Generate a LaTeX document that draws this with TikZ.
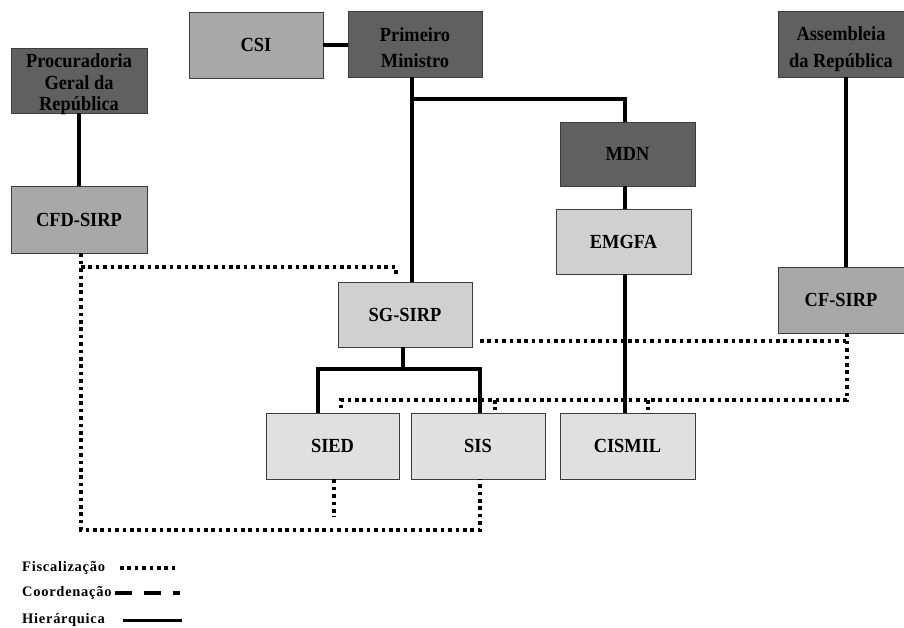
\documentclass[tikz,border=0pt]{standalone}
\usepackage{fontspec}
\setmainfont{Liberation Serif}
\definecolor{dkgray}{RGB}{96,96,96}
\definecolor{mdgray}{RGB}{168,168,168}
\definecolor{ltgray}{RGB}{208,208,208}
\definecolor{plgray}{RGB}{224,224,224}
\definecolor{bordergray}{RGB}{60,60,60}
\begin{document}
\begin{tikzpicture}[x=1pt,y=-1pt,
  box/.style={draw=bordergray, line width=0.8pt, minimum width=134pt, minimum height=66pt,
    inner sep=0pt, align=center, text=black, font=\fontsize{20}{26}\selectfont\bfseries\addfontfeatures{FakeStretch=0.92}},
  darkbox/.style={box, fill=dkgray},
  medbox/.style={box, fill=mdgray},
  lightbox/.style={box, fill=ltgray},
  palebox/.style={box, fill=plgray},
  hier/.style={line width=3.5pt, line join=miter},
  fisc/.style={line width=3.6pt, dash pattern=on 3.6pt off 3.8pt},
  coord/.style={line width=3.6pt, dash pattern=on 17pt off 12pt},
  legend/.style={anchor=west, inner sep=0pt, font=\fontsize{14.5}{16}\selectfont\bfseries\addfontfeatures{LetterSpace=5}}
]
\useasboundingbox (0,0) rectangle (904,627);

% boxes
\node[darkbox, minimum width=136pt, minimum height=65pt, inner ysep=-5pt, font=\fontsize{20}{21.5}\selectfont\bfseries\addfontfeatures{FakeStretch=0.92}] (pgr) at (79,80.5) {\rule{0pt}{22pt}Procuradoria\\Geral da\\República};
\node[medbox] (csi) at (256,45) {CSI};
\node[darkbox] (pm) at (415,44) {\rule{0pt}{22pt}Primeiro\\Ministro};
\node[darkbox, minimum width=126pt, font=\fontsize{20}{27}\selectfont\bfseries\addfontfeatures{FakeStretch=0.92}] (ar) at (841,44) {\rule{0pt}{25pt}Assembleia\\da República};
\node[darkbox, minimum width=135pt, minimum height=64pt] (mdn) at (627.5,154) {MDN};
\node[lightbox, minimum width=135pt, minimum height=65pt] (emgfa) at (623.5,241.5) {EMGFA};
\node[medbox, minimum width=136pt, minimum height=67pt] (cfd) at (79,219.5) {CFD-SIRP};
\node[lightbox, minimum height=65pt] (sg) at (405,314.5) {SG-SIRP};
\node[medbox, minimum width=126pt] (cf) at (841,300) {CF-SIRP};
\node[palebox, minimum width=133pt] (sied) at (332.5,446) {SIED};
\node[palebox] (sis) at (478,446) {SIS};
\node[palebox, minimum width=135pt] (cismil) at (627.5,446) {CISMIL};

% helper coordinates
\coordinate (pmx) at (412,0);
\coordinate (j1) at (412,99);
\coordinate (mx) at (625,0);
\coordinate (arx) at (846,0);
\coordinate (sgj) at (403,369);
\coordinate (x318) at (318,0);
\coordinate (x480) at (480,0);
\coordinate (x81) at (81,0);
\coordinate (y530) at (0,530);
\coordinate (f1) at (81,267);
\coordinate (f2) at (396,277);
\coordinate (x334) at (334,0);
\coordinate (f3) at (334,517);
\coordinate (f4) at (480,341);
\coordinate (x847) at (847,0);
\coordinate (f5) at (341,400);
\coordinate (f6) at (341,410);
\coordinate (d1a) at (495,400);
\coordinate (d1b) at (495,410);
\coordinate (d2a) at (648,400);
\coordinate (d2b) at (648,410);

% hierarchical lines
\draw[hier] (csi.east) -- (csi.east -| pm.west);
\draw[hier] (pm.south -| pmx) -- (sg.north -| pmx);
\draw[hier] (j1) -| (mdn.north -| mx);
\draw[hier] (mdn.south -| mx) -- (emgfa.north -| mx);
\draw[hier] (emgfa.south -| mx) -- (cismil.north -| mx);
\draw[hier] (pgr.south) -- (cfd.north);
\draw[hier] (ar.south -| arx) -- (cf.north -| arx);
\draw[hier] (sg.south -| sgj) -- (sgj);
\draw[hier] (sied.north -| x318) |- (x480 |- sgj) -- (sis.north -| x480);

% fiscalization lines
\draw[fisc] (cfd.south -| x81) -- (x81 |- y530) -| (sis.south -| x480);
\draw[fisc] (f1) -| (f2);
\draw[fisc] (sied.south -| x334) -- (f3);
\draw[fisc] (f4) -- (x847 |- f4);
\draw[fisc] (cf.south -| x847) |- (f5) -- (f6);
\draw[fisc] (d1a) -- (d1b);
\draw[fisc] (d2a) -- (d2b);

% legend
\node[legend] (l1) at (22,568) {Fiscalização};
\node[legend] (l2) at (22,593) {Coordenação};
\node[legend] (l3) at (22,620) {Hierárquica};
\coordinate (l1a) at (120,568); \coordinate (l1b) at (178,568);
\coordinate (l2a) at (115,593); \coordinate (l2b) at (180,593);
\coordinate (l3a) at (123,620); \coordinate (l3b) at (182,620);
\draw[fisc] (l1a) -- (l1b);
\draw[coord] (l2a) -- (l2b);
\draw[line width=3pt] (l3a) -- (l3b);
\end{tikzpicture}
\end{document}
